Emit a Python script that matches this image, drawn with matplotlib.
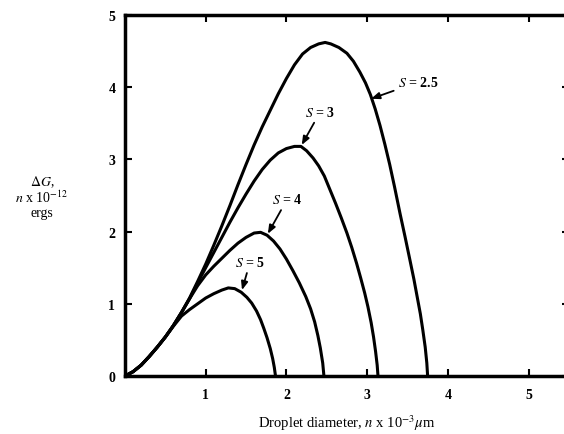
import matplotlib
matplotlib.use("Agg")
import matplotlib.pyplot as plt

plt.rcParams['mathtext.fontset'] = 'stix'
plt.rcParams['font.family'] = ['Liberation Serif', 'DejaVu Serif']

# ---- data ----
d_s25 = [0, 0.1, 0.2, 0.3, 0.4, 0.5, 0.6, 0.7, 0.8, 0.9, 1.0, 1.1, 1.2, 1.3, 1.4, 1.5, 1.6, 1.7,
         1.8, 1.9, 2.0, 2.1, 2.2, 2.3, 2.4, 2.48, 2.55, 2.65, 2.75, 2.83, 2.91, 2.98, 3.04, 3.10,
         3.16, 3.22, 3.28, 3.34, 3.41, 3.47, 3.53, 3.58, 3.62, 3.66, 3.69, 3.72, 3.74, 3.75]
g_s25 = [0, 0.06, 0.15, 0.27, 0.40, 0.54, 0.70, 0.88, 1.08, 1.31, 1.55, 1.81, 2.08, 2.36, 2.65,
         2.93, 3.20, 3.45, 3.68, 3.91, 4.12, 4.31, 4.46, 4.55, 4.60, 4.62, 4.60, 4.55, 4.47, 4.36,
         4.21, 4.06, 3.90, 3.70, 3.47, 3.21, 2.93, 2.62, 2.24, 1.93, 1.61, 1.34, 1.10, 0.86, 0.64,
         0.40, 0.18, 0]

d_s3 = [0, 0.1, 0.2, 0.3, 0.4, 0.5, 0.6, 0.7, 0.8, 0.9, 1.0, 1.1, 1.2, 1.3, 1.4, 1.5, 1.6, 1.7,
        1.8, 1.9, 2.0, 2.1, 2.18, 2.25, 2.33, 2.4, 2.47, 2.54, 2.61, 2.68, 2.75, 2.81, 2.87, 2.92,
        2.97, 3.01, 3.05, 3.08, 3.105, 3.125, 3.135]
g_s3 = [0, 0.06, 0.15, 0.27, 0.40, 0.54, 0.70, 0.88, 1.07, 1.29, 1.50, 1.71, 1.92, 2.13, 2.33,
        2.52, 2.70, 2.86, 2.99, 3.09, 3.15, 3.18, 3.18, 3.12, 3.02, 2.91, 2.77, 2.58, 2.39, 2.19,
        1.98, 1.78, 1.56, 1.36, 1.15, 0.96, 0.74, 0.54, 0.34, 0.15, 0]

d_s4 = [0, 0.1, 0.2, 0.3, 0.4, 0.5, 0.6, 0.7, 0.8, 0.9, 1.0, 1.1, 1.2, 1.3, 1.4, 1.5, 1.6, 1.68,
        1.76, 1.84, 1.92, 2.0, 2.08, 2.16, 2.24, 2.3, 2.35, 2.39, 2.42, 2.45, 2.465]
g_s4 = [0, 0.06, 0.15, 0.27, 0.40, 0.54, 0.70, 0.88, 1.07, 1.25, 1.40, 1.52, 1.63, 1.74, 1.84,
        1.92, 1.98, 1.99, 1.95, 1.87, 1.76, 1.62, 1.46, 1.29, 1.10, 0.93, 0.75, 0.56, 0.39, 0.18, 0]

d_s5 = [0, 0.1, 0.2, 0.3, 0.4, 0.5, 0.6, 0.7, 0.8, 0.9, 1.0, 1.1, 1.2, 1.28, 1.36, 1.44, 1.51,
        1.57, 1.63, 1.68, 1.72, 1.76, 1.8, 1.83, 1.85, 1.865]
g_s5 = [0, 0.06, 0.15, 0.27, 0.40, 0.54, 0.69, 0.83, 0.92, 1.00, 1.08, 1.14, 1.19, 1.22, 1.21,
        1.16, 1.09, 1.01, 0.90, 0.78, 0.66, 0.53, 0.38, 0.24, 0.12, 0]

curves = [(d_s25, g_s25), (d_s3, g_s3), (d_s4, g_s4), (d_s5, g_s5)]

labels = [r"$S$ = 2.5", r"$S$ = 3", r"$S$ = 4", r"$S$ = 5"]
label_xy = [(3.38, 4.07), (2.42, 3.66), (2.01, 2.45), (1.55, 1.58)]
label_ha = ['left', 'center', 'center', 'center']
arrow_tip = [(3.05, 3.84), (2.19, 3.20), (1.77, 1.97), (1.45, 1.19)]

x_ticks = [1, 2, 3, 4, 5]
y_ticks = [0, 1, 2, 3, 4, 5]

# ---- figure ----
W, H = 564, 435
fig = plt.figure(figsize=(W / 100, H / 100), dpi=100)
left = 125 / W
bottom = 1 - 377 / H
width = 5.5 * 80.7 / W
height = (377 - 16) / H
ax = fig.add_axes([left, bottom, width, height])

for d, g in curves:
    ax.plot(d, g, color='black', lw=2.2, solid_capstyle='round', solid_joinstyle='round')

for lab, xy, ha, tip in zip(labels, label_xy, label_ha, arrow_tip):
    ax.annotate(lab, xy=tip, xytext=xy, ha=ha, va='center', fontsize=10, fontweight='bold',
                arrowprops=dict(arrowstyle='-|>,head_length=0.5,head_width=0.2', color='black',
                                lw=1.3, shrinkA=1, shrinkB=0))

ax.set_xlim(0, 5.5)
ax.set_ylim(0, 5)
ax.set_xticks(x_ticks)
ax.set_yticks(y_ticks)
ax.set_xticklabels([str(t) for t in x_ticks], fontsize=10, fontweight='bold')
ax.set_yticklabels([str(t) for t in y_ticks], fontsize=10, fontweight='bold')
ax.tick_params(direction='in', length=5, width=1.5, top=True, right=True, pad=7)
ax.tick_params(axis='x', pad=9)
for s in ax.spines.values():
    s.set_linewidth(2.5)

fig.text(42 / W, 1 - 182 / H, r"$\Delta G$,", ha='center', va='center', fontsize=10)
fig.text(42 / W, 1 - 198 / H, r"$n$ x 10$^{-12}$", ha='center', va='center', fontsize=10)
fig.text(42 / W, 1 - 214 / H, "ergs", ha='center', va='center', fontsize=10)

fig.text(347 / W, 1 - 423 / H, r"Droplet diameter, $n$ x 10$^{-3}$$\mu$m", ha='center', va='center',
         fontsize=10.5)

fig.savefig("out.png", dpi=100)
